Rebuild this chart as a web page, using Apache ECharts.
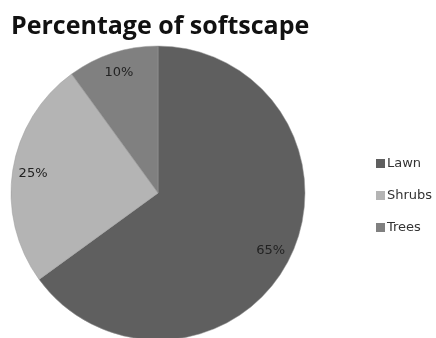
<!DOCTYPE html>
<html><head><meta charset="utf-8">
<script src="https://cdn.jsdelivr.net/npm/echarts@6/dist/echarts.min.js"></script>
<style>html,body{margin:0;padding:0;background:#fff}#c{width:436px;height:338px}</style>
</head><body><div id="c"></div>
<script>
var categories = ['Lawn', 'Shrubs', 'Trees'];
var values = [65, 25, 10];
var colors = ['#5f5f5f', '#b4b4b4', '#808080'];

var data = categories.map(function (n, i) { return { name: n, value: values[i], itemStyle: { color: colors[i] } }; });
var chart = echarts.init(document.getElementById('c'));
chart.setOption({
  animation: false,
  backgroundColor: '#fff',
  title: { text: 'Percentage of softscape', left: 6, top: 9,
    textStyle: { fontFamily: 'Open Sans', fontWeight: 'bold', fontSize: 25, color: '#111' } },
  legend: {
    orient: 'vertical', left: 371, top: 152, itemWidth: 9, itemHeight: 9, itemGap: 19, icon: 'rect',
    data: categories,
    itemStyle: { borderWidth: 0 },
    textStyle: { fontFamily: 'DejaVu Sans', fontSize: 13, color: '#333', padding: [0, 0, 0, -3] }
  },
  series: [{
    type: 'pie', center: [158, 193], radius: [0, 147], startAngle: 90, clockwise: true,
    label: { show: false }, labelLine: { show: false },
    itemStyle: { borderColor: '#9a9a9a', borderWidth: 0.5 },
    emphasis: { disabled: true },
    data: data
  }, {
    type: 'pie', center: [158, 193], radius: [100, 147], startAngle: 90, clockwise: true, silent: true,
    legendHoverLink: false,
    itemStyle: { color: 'rgba(0,0,0,0)' },
    label: { show: true, position: 'inside', formatter: '{c}%', fontFamily: 'DejaVu Sans', fontSize: 13, color: '#222' },
    labelLine: { show: false },
    emphasis: { disabled: true },
    data: categories.map(function (n, i) { return { name: n + ' ', value: values[i] }; })
  }]
});
</script></body></html>
